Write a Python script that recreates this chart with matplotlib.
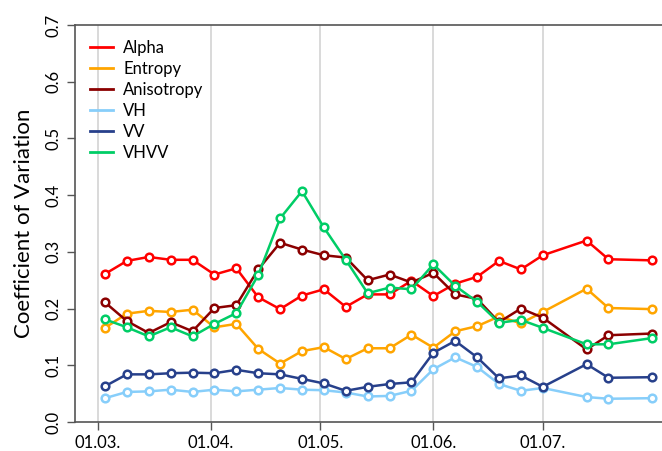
#!/usr/bin/env python3
import datetime as dt

import matplotlib
matplotlib.use('Agg')
from matplotlib import pyplot as plt
import matplotlib.dates as mdates

# acquisition dates (6-day repeat, some gaps in July)
dates = ['2017-03-03', '2017-03-09', '2017-03-15', '2017-03-21', '2017-03-27',
         '2017-04-02', '2017-04-08', '2017-04-14', '2017-04-20', '2017-04-26',
         '2017-05-02', '2017-05-08', '2017-05-14', '2017-05-20', '2017-05-26',
         '2017-06-01', '2017-06-07', '2017-06-13', '2017-06-19', '2017-06-25',
         '2017-07-01', '2017-07-13', '2017-07-19', '2017-07-31']

alpha = [0.261, 0.284, 0.291, 0.286, 0.286, 0.260, 0.271, 0.220, 0.199, 0.223,
         0.234, 0.203, 0.225, 0.225, 0.249, 0.222, 0.244, 0.256, 0.284, 0.269,
         0.294, 0.320, 0.287, 0.285]
entropy = [0.166, 0.191, 0.196, 0.194, 0.198, 0.167, 0.173, 0.129, 0.103, 0.125,
           0.132, 0.111, 0.130, 0.130, 0.154, 0.131, 0.160, 0.169, 0.186, 0.174,
           0.194, 0.235, 0.201, 0.199]
anisotropy = [0.211, 0.178, 0.157, 0.176, 0.160, 0.201, 0.206, 0.269, 0.316, 0.304,
              0.294, 0.290, 0.250, 0.260, 0.246, 0.263, 0.225, 0.217, 0.176, 0.200,
              0.184, 0.128, 0.153, 0.156]
vh = [0.042, 0.053, 0.054, 0.057, 0.053, 0.057, 0.054, 0.057, 0.060, 0.057,
      0.056, 0.052, 0.045, 0.046, 0.055, 0.093, 0.114, 0.097, 0.067, 0.055,
      0.060, 0.044, 0.041, 0.042]
vv = [0.063, 0.084, 0.084, 0.086, 0.087, 0.086, 0.092, 0.086, 0.084, 0.076,
      0.068, 0.055, 0.062, 0.067, 0.070, 0.122, 0.143, 0.114, 0.077, 0.082,
      0.062, 0.102, 0.078, 0.079]
vhvv = [0.181, 0.167, 0.151, 0.167, 0.151, 0.173, 0.192, 0.259, 0.359, 0.407,
        0.343, 0.286, 0.227, 0.237, 0.234, 0.278, 0.240, 0.212, 0.175, 0.180,
        0.166, 0.137, 0.137, 0.148]

labels = ['Alpha', 'Entropy', 'Anisotropy', 'VH', 'VV', 'VHVV']
colors = ['#ff0000', '#ffa500', '#8b0000', '#87cefa', '#27408b', '#00cd66']
month_ticks = ['2017-03-01', '2017-04-01', '2017-05-01', '2017-06-01', '2017-07-01']

plt.rcParams['font.family'] = ['Lato', 'DejaVu Sans']

x = [dt.datetime.strptime(d, '%Y-%m-%d') for d in dates]
ticks = [dt.datetime.strptime(d, '%Y-%m-%d') for d in month_ticks]

fig = plt.figure(figsize=(6.62, 4.51), dpi=100)
ax = fig.add_axes([75 / 662, 29 / 451, 587 / 662, 397 / 451])

for vals, lab, col in zip([alpha, entropy, anisotropy, vh, vv, vhvv], labels, colors):
    ax.plot(x, vals, color=col, lw=1.8, marker='o', ms=5.5, mfc='white',
            mec=col, mew=1.8, label=lab, zorder=3)

ax.set_xlim(dt.datetime(2017, 2, 22, 19), dt.datetime(2017, 8, 2, 16))
ax.set_ylim(0, 0.7)
ax.set_xticks(ticks)
ax.xaxis.set_major_formatter(mdates.DateFormatter('%d.%m.'))
ax.set_yticks([0, 0.1, 0.2, 0.3, 0.4, 0.5, 0.6, 0.7])
ax.set_yticklabels(['0.0', '0.1', '0.2', '0.3', '0.4', '0.5', '0.6', '0.7'],
                   rotation=90, va='center')
ax.tick_params(labelsize=12, color='#555555', length=6, width=1)
ax.tick_params(axis='y', pad=4)
ax.grid(axis='x', color='#d3d3d3', lw=1.2)
ax.spines['right'].set_visible(False)
for s in ('left', 'top', 'bottom'):
    ax.spines[s].set_color('#555555')
    ax.spines[s].set_linewidth(1.2)
ax.set_ylabel('Coefficient of Variation', fontsize=16, labelpad=8)

leg = ax.legend(loc='upper left', frameon=False, fontsize=12, handlelength=1.4,
                handletextpad=0.6, labelspacing=0.3, borderaxespad=0.5)
for h in leg.legend_handles:
    h.set_marker('')
    h.set_linewidth(2)

fig.savefig('out.png', dpi=100)
